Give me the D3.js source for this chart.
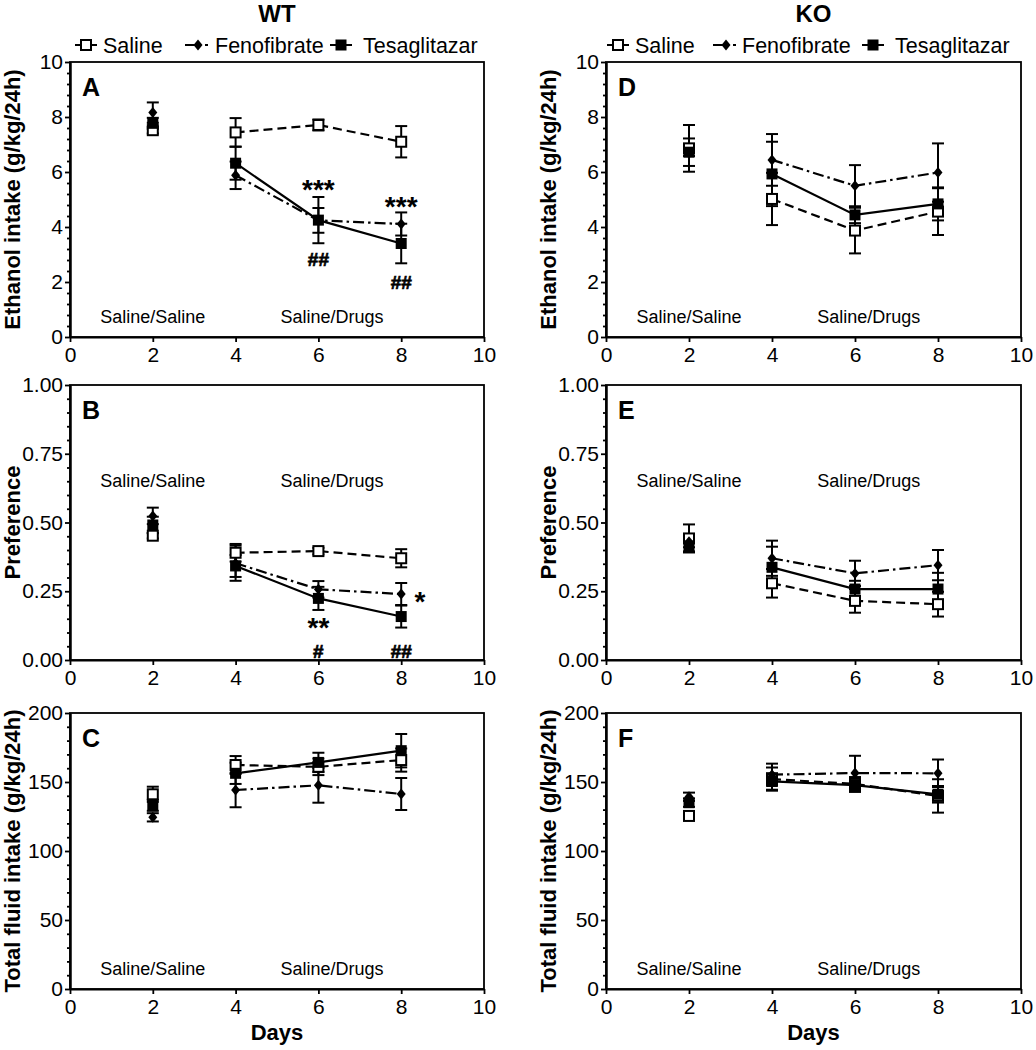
<!DOCTYPE html>
<html><head><meta charset="utf-8">
<script src="https://cdn.jsdelivr.net/npm/d3@7"></script>
<style>
body{margin:0;background:#fff}
svg{display:block}
text{font-family:"Liberation Sans",Arial,Helvetica,sans-serif;fill:#000}
</style>
</head><body>
<svg id="c" width="1036" height="1050"></svg>
<script>
// ---------- data ----------
const days = [2, 4, 6, 8];
const xTicks = [0, 2, 4, 6, 8, 10];
const ethanolTicks = [0, 2, 4, 6, 8, 10];
const preferenceTicks = [0, 0.25, 0.5, 0.75, 1.0];
const fluidTicks = [0, 50, 100, 150, 200];
const groupNames = ["Saline", "Fenofibrate", "Tesaglitazar"];
const phaseLabels = ["Saline/Saline", "Saline/Drugs"];
const phaseDays = [2, 6.33];
const genotypes = ["WT", "KO"];
const yTitles = ["Ethanol intake (g/kg/24h)", "Preference", "Total fluid intake (g/kg/24h)"];
const panelLetters = ["A", "B", "C", "D", "E", "F"];

// WT ethanol intake (A)
const wtEthanolSaline = [7.52, 7.44, 7.71, 7.10];
const wtEthanolSalineSem = [0.12, 0.52, 0.20, 0.57];
const wtEthanolFeno = [8.16, 5.88, 4.24, 4.11];
const wtEthanolFenoSem = [0.37, 0.50, 0.45, 0.42];
const wtEthanolTesa = [7.77, 6.32, 4.25, 3.40];
const wtEthanolTesaSem = [0.20, 0.60, 0.84, 0.72];
// WT preference (B)
const wtPrefSaline = [0.452, 0.390, 0.396, 0.370];
const wtPrefSalineSem = [0.010, 0.032, 0.012, 0.033];
const wtPrefFeno = [0.524, 0.352, 0.257, 0.240];
const wtPrefFenoSem = [0.030, 0.064, 0.030, 0.040];
const wtPrefTesa = [0.491, 0.342, 0.224, 0.158];
const wtPrefTesaSem = [0.030, 0.040, 0.042, 0.040];
// WT total fluid (C)
const wtFluidSaline = [141.1, 162.3, 161.0, 165.9];
const wtFluidSalineSem = [5.5, 6.5, 6.0, 8.4];
const wtFluidFeno = [124.4, 144.2, 147.6, 141.3];
const wtFluidFenoSem = [3.0, 12.5, 12.6, 11.6];
const wtFluidTesa = [133.1, 156.3, 164.2, 172.7];
const wtFluidTesaSem = [4.0, 7.7, 7.0, 12.1];
// KO ethanol intake (D)
const koEthanolSaline = [6.86, 5.02, 3.87, 4.56];
const koEthanolSalineSem = [0.85, 0.95, 0.83, 0.85];
const koEthanolFeno = [6.68, 6.44, 5.50, 5.98];
const koEthanolFenoSem = [0.10, 0.94, 0.75, 1.06];
const koEthanolTesa = [6.72, 5.93, 4.44, 4.84];
const koEthanolTesaSem = [0.50, 1.17, 0.30, 0.60];
// KO preference (E)
const koPrefSaline = [0.442, 0.279, 0.215, 0.203];
const koPrefSalineSem = [0.051, 0.052, 0.043, 0.045];
const koPrefFeno = [0.430, 0.370, 0.315, 0.345];
const koPrefFenoSem = [0.020, 0.064, 0.046, 0.055];
const koPrefTesa = [0.415, 0.337, 0.258, 0.258];
const koPrefTesaSem = [0.020, 0.075, 0.030, 0.059];
// KO total fluid (F)
const koFluidSaline = [125.4, 152.1, 148.6, 139.9];
const koFluidSalineSem = [3.0, 8.4, 5.0, 12.1];
const koFluidFeno = [139.3, 155.3, 156.5, 156.3];
const koFluidFenoSem = [3.0, 8.0, 12.5, 10.0];
const koFluidTesa = [135.0, 150.4, 147.8, 141.1];
const koFluidTesaSem = [3.0, 6.0, 5.0, 6.0];

// significance marks: text, day, value (centre of the glyphs)
const sigA = [["***", 6, 5.64], ["***", 8, 5.02], ["##", 6, 2.83], ["##", 8, 2.01]];
const sigB = [["**", 6, 0.145], ["#", 6, 0.032], ["##", 8, 0.032], ["*", 8.45, 0.24]];

// ---------- layout ----------
const colX = [[70, 484], [606, 1021]];
const rowY = [[62, 337], [385, 660], [713, 989]];
const svg = d3.select("#c");

const panels = [
  {col:0,row:0,ticks:ethanolTicks,fmt:d3.format("d"),phaseV:0.5,
   means:[wtEthanolSaline,wtEthanolFeno,wtEthanolTesa],sems:[wtEthanolSalineSem,wtEthanolFenoSem,wtEthanolTesaSem],sig:sigA},
  {col:0,row:1,ticks:preferenceTicks,fmt:d3.format(".2f"),phaseV:0.63,
   means:[wtPrefSaline,wtPrefFeno,wtPrefTesa],sems:[wtPrefSalineSem,wtPrefFenoSem,wtPrefTesaSem],sig:sigB},
  {col:0,row:2,ticks:fluidTicks,fmt:d3.format("d"),phaseV:10,
   means:[wtFluidSaline,wtFluidFeno,wtFluidTesa],sems:[wtFluidSalineSem,wtFluidFenoSem,wtFluidTesaSem],sig:[]},
  {col:1,row:0,ticks:ethanolTicks,fmt:d3.format("d"),phaseV:0.5,
   means:[koEthanolSaline,koEthanolFeno,koEthanolTesa],sems:[koEthanolSalineSem,koEthanolFenoSem,koEthanolTesaSem],sig:[]},
  {col:1,row:1,ticks:preferenceTicks,fmt:d3.format(".2f"),phaseV:0.63,
   means:[koPrefSaline,koPrefFeno,koPrefTesa],sems:[koPrefSalineSem,koPrefFenoSem,koPrefTesaSem],sig:[]},
  {col:1,row:2,ticks:fluidTicks,fmt:d3.format("d"),phaseV:10,
   means:[koFluidSaline,koFluidFeno,koFluidTesa],sems:[koFluidSalineSem,koFluidFenoSem,koFluidTesaSem],sig:[]}
];

const dashes = ["9,5", "11,4,2.5,4", null];

function drawMarker(g, gi, cx, cy) {
  if (gi === 0) {
    g.append("rect").attr("x", cx - 5).attr("y", cy - 5).attr("width", 10).attr("height", 10)
      .attr("fill", "#fff").attr("stroke", "#000").attr("stroke-width", 2);
  } else if (gi === 1) {
    g.append("path").attr("d", `M${cx},${cy-5.5}L${cx+4.5},${cy}L${cx},${cy+5.5}L${cx-4.5},${cy}Z`)
      .attr("fill", "#000");
  } else {
    g.append("rect").attr("x", cx - 5.5).attr("y", cy - 5.5).attr("width", 11).attr("height", 11)
      .attr("fill", "#000");
  }
}

panels.forEach((p, pi) => {
  const [x0, x1] = colX[p.col];
  const [y0, y1] = rowY[p.row];
  const ymax = p.ticks[p.ticks.length - 1];
  const x = d3.scaleLinear().domain([0, 10]).range([x0, x1]);
  const y = d3.scaleLinear().domain([0, ymax]).range([y1, y0]);
  const g = svg.append("g");

  // frame
  g.append("rect").attr("x", x0).attr("y", y0).attr("width", x1 - x0).attr("height", y1 - y0)
    .attr("fill", "none").attr("stroke", "#000").attr("stroke-width", 1.8);

  // y axis major + minor
  const step = p.ticks[1] - p.ticks[0];
  const minor = d3.range(0, ymax + 1e-9, step / 5).filter(v => !p.ticks.some(t => Math.abs(t - v) < 1e-9));
  const yMin = g.append("g").attr("transform", `translate(${x0},0)`)
    .call(d3.axisLeft(y).tickValues(minor).tickSize(3).tickSizeOuter(0).tickFormat(""));
  const yAx = g.append("g").attr("transform", `translate(${x0},0)`)
    .call(d3.axisLeft(y).tickValues(p.ticks).tickFormat(p.fmt).tickSize(5).tickSizeOuter(0).tickPadding(2));
  const xAx = g.append("g").attr("transform", `translate(0,${y1})`)
    .call(d3.axisBottom(x).tickValues(xTicks).tickFormat(d3.format("d")).tickSize(5).tickSizeOuter(0).tickPadding(5));
  [yMin, yAx, xAx].forEach(a => {
    a.selectAll("path").attr("stroke-width", 2);
    a.selectAll("line").attr("stroke-width", 1.8);
    a.selectAll("text").attr("font-size", 21).attr("font-family", '"Liberation Sans",Arial,sans-serif');
  });

  // y title
  g.append("text").attr("transform", `translate(${x0 - 50},${(y0 + y1) / 2}) rotate(-90)`)
    .attr("text-anchor", "middle").attr("font-size", 22).attr("font-weight", "bold")
    .text(yTitles[p.row]);

  // panel letter
  g.append("text").attr("x", x0 + 12).attr("y", y0 + 34).attr("font-size", 25)
    .attr("font-weight", "bold").text(panelLetters[pi]);

  // phase labels
  phaseLabels.forEach((t, i) => {
    g.append("text").attr("x", x(phaseDays[i])).attr("y", y(p.phaseV)).attr("text-anchor", "middle")
      .attr("font-size", 18).text(t);
  });

  // lines (days 4-8 only)
  groupNames.forEach((nm, gi) => {
    const pts = days.map((d, i) => [d, p.means[gi][i]]).filter(d => d[0] >= 4);
    const line = d3.line().x(d => x(d[0])).y(d => y(d[1]));
    g.append("path").attr("d", line(pts)).attr("fill", "none").attr("stroke", "#000")
      .attr("stroke-width", 2.2).attr("stroke-dasharray", dashes[gi]);
  });
  // error bars
  groupNames.forEach((nm, gi) => {
    days.forEach((d, i) => {
      const m = p.means[gi][i], e = p.sems[gi][i];
      const cx = x(d), ya = y(m + e), yb = y(m - e);
      g.append("line").attr("x1", cx).attr("x2", cx).attr("y1", ya).attr("y2", yb)
        .attr("stroke", "#000").attr("stroke-width", 2);
      [ya, yb].forEach(yy => g.append("line").attr("x1", cx - 6).attr("x2", cx + 6)
        .attr("y1", yy).attr("y2", yy).attr("stroke", "#000").attr("stroke-width", 2));
    });
  });
  // markers
  groupNames.forEach((nm, gi) => {
    days.forEach((d, i) => drawMarker(g, gi, x(d), y(p.means[gi][i])));
  });

  // significance
  p.sig.forEach(s => {
    const star = s[0].includes("*");
    const fs = star ? 28 : 19;
    const off = star ? 0.6 * fs : 0.36 * fs;
    g.append("text").attr("x", x(s[1])).attr("y", y(s[2]) + off).attr("text-anchor", "middle")
      .attr("font-size", fs).attr("font-weight", "bold")
      .attr("stroke", star ? "none" : "#000").attr("stroke-width", star ? 0 : 0.7)
      .text(s[0]);
  });

  // x title on bottom row
  if (p.row === 2) {
    g.append("text").attr("x", (x0 + x1) / 2).attr("y", y1 + 51).attr("text-anchor", "middle")
      .attr("font-size", 22).attr("font-weight", "bold").text("Days");
  }
});

// headers + legends
const legendOffsets = [[5, 33, 115, 145, 260, 293], [1, 29, 107, 136, 256, 289]];
genotypes.forEach((gt, ci) => {
  const [x0, x1] = colX[ci];
  svg.append("text").attr("x", (x0 + x1) / 2).attr("y", 22).attr("text-anchor", "middle")
    .attr("font-size", 24).attr("font-weight", "bold").text(gt);
  const lg = svg.append("g");
  const cy = 45;
  const o = legendOffsets[ci];
  groupNames.forEach((nm, gi) => {
    const sx = x0 + o[gi * 2];
    const tx = x0 + o[gi * 2 + 1];
    const w = 22;
    if (gi === 1) {
      lg.append("line").attr("x1", sx).attr("x2", sx + 13).attr("y1", cy).attr("y2", cy)
        .attr("stroke", "#000").attr("stroke-width", 2);
      lg.append("line").attr("x1", sx + 20).attr("x2", sx + 23).attr("y1", cy).attr("y2", cy)
        .attr("stroke", "#000").attr("stroke-width", 2);
    } else {
      lg.append("line").attr("x1", sx).attr("x2", sx + w).attr("y1", cy).attr("y2", cy)
        .attr("stroke", "#000").attr("stroke-width", 2);
    }
    drawMarker(lg, gi, sx + (gi === 1 ? 13 : w / 2), cy);
    lg.append("text").attr("x", tx).attr("y", cy + 7.5).attr("font-size", 21.5).text(nm);
  });
});
</script>
</body></html>
